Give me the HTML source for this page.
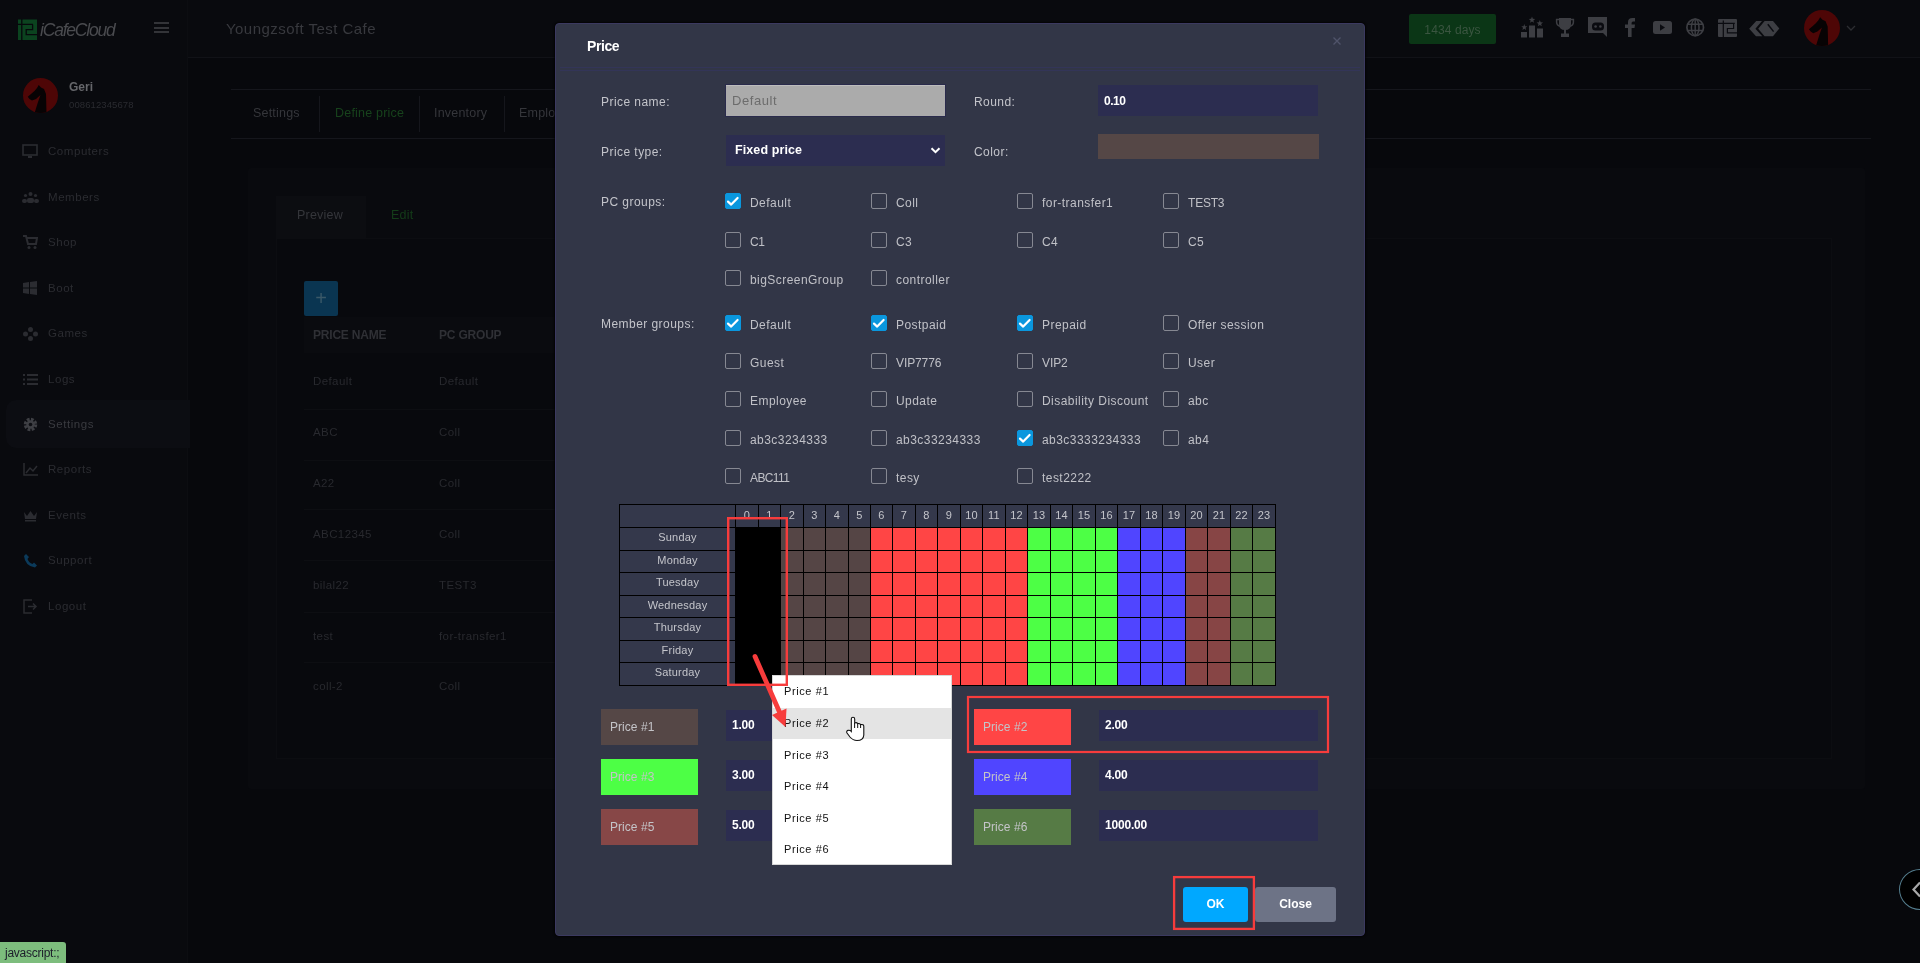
<!DOCTYPE html>
<html><head><meta charset="utf-8"><title>Price</title>
<style>
*{box-sizing:border-box;margin:0;padding:0}
html,body{width:1920px;height:963px;overflow:hidden;background:#07080c;font-family:"Liberation Sans",sans-serif;-webkit-font-smoothing:antialiased}
.a{position:absolute}
.t{position:absolute;white-space:nowrap;will-change:transform}
/* background app */
#sb-line{left:187px;top:0;width:1px;height:963px;background:#0c0d11}
#sb-bg{left:0;top:0;width:188px;height:963px;background:#090a0e}
#hd-bg{left:188px;top:0;width:1732px;height:57px;background:#090a0e}
#hd-line{left:188px;top:57px;width:1732px;height:1px;background:#111217}
.mi{will-change:transform;position:absolute;left:48px;font-size:11.5px;color:#2b2c31;letter-spacing:.55px}
.mic{position:absolute;left:23px;width:15px;height:13px}
/* modal */
#modal{left:555px;top:23px;width:810px;height:913px;background:#323647;border:1px solid #3b3960;border-radius:4px;box-shadow:0 0 2px 1px rgba(0,0,0,.75)}
.lbl{will-change:transform;position:absolute;font-size:12px;color:#c3c4ca;letter-spacing:.45px;white-space:nowrap}
.inp{position:absolute;background:#2c2d50}
.cb{position:absolute;width:16px;height:16px;border:1px solid #868892;border-radius:2px}
.cb.on{background:#0a97de;border-color:#0a97de}
.cb.on svg{position:absolute;left:-1px;top:-1px}
.cl{will-change:transform;position:absolute;font-size:12px;color:#c0c1c7;letter-spacing:.45px;white-space:nowrap}
#grid{left:619px;top:504px;width:657px;height:182px;background:#000}
#grid div{will-change:transform;position:absolute;text-align:center;color:#c4c5cb;font-size:11px;letter-spacing:.2px}
#grid .dc{text-indent:0;padding-bottom:3px;line-height:18px!important}
#grid .hc{padding-bottom:2px;line-height:20px!important}
#grid .hc{font-size:11px}
.pl{will-change:transform;position:absolute;width:97px;height:36px;font-size:12px;color:#c4c4c8;padding-left:9px;line-height:36px;letter-spacing:.05px}
.pv{will-change:transform;position:absolute;height:31px;background:#2c2d50;color:#fff;font-weight:bold;font-size:12px;line-height:31px;padding-left:6px;letter-spacing:-.2px}
.btn{will-change:transform;position:absolute;height:35px;border-radius:3px;color:#fff;font-weight:bold;font-size:12px;text-align:center;line-height:35px}
#dd{left:772px;top:675px;width:180px;height:190px;background:#fff;border:1px solid #d8d8d8}
.ddi{position:absolute;left:0;width:178px;height:31.6px;font-size:11px;color:#111;padding-left:11px;letter-spacing:.6px}
</style></head><body>
<!-- ===== background app (dimmed) ===== -->
<div class="a" id="sb-bg"></div><div class="a" id="hd-bg"></div>
<div class="a" id="sb-line"></div>
<div class="a" id="hd-line"></div>
<!-- logo -->
<svg class="a" style="left:16px;top:18px" width="24" height="24" viewBox="16 18 24 24">
 <rect x="18" y="19.5" width="19" height="20.5" fill="#0b431f"/>
 <path d="M21.8 19V40.5M17.5 24.4H33M32.6 24.4V29.7H26.2V34.6H37.5" fill="none" stroke="#07080c" stroke-width="1.3"/>
</svg>
<div class="t" style="left:40px;top:20px;font-size:17.5px;color:#4a4b4f;letter-spacing:-1.2px;font-style:italic">iCafeCloud</div>
<!-- hamburger -->
<div class="a" style="left:154px;top:22px;width:15px;height:2px;background:#333438"></div>
<div class="a" style="left:154px;top:26.5px;width:15px;height:2px;background:#333438"></div>
<div class="a" style="left:154px;top:31px;width:15px;height:2px;background:#333438"></div>
<!-- user -->
<div class="a" style="left:23px;top:78px;width:35px;height:35px;border-radius:50%;background:#4e0606;overflow:hidden">
 <svg width="35" height="35" viewBox="0 0 35 35"><path d="M15.7 7L18 9.5L21 11L23 16L23.5 36L11.3 36L15 24L17.5 17L13 21L9 22.5L6.5 21L4.8 18.7L8 16L11.5 13L14 10Z" fill="#070304"/></svg>
</div>
<div class="t" style="left:69px;top:80px;font-size:12px;font-weight:bold;color:#66676b">Geri</div>
<div class="t" style="left:69px;top:99px;font-size:9.5px;color:#2a2b30;letter-spacing:.1px">008612345678</div>
<!-- menu -->
<div class="a" style="left:6px;top:400px;width:184px;height:48px;background:#0c0d12;border-radius:10px 0 0 10px"></div>
<div class="mi" style="top:145px">Computers</div>
<div class="mi" style="top:191px">Members</div>
<div class="mi" style="top:236px">Shop</div>
<div class="mi" style="top:282px">Boot</div>
<div class="mi" style="top:327px">Games</div>
<div class="mi" style="top:373px">Logs</div>
<div class="mi" style="top:418px;color:#3a3b40">Settings</div>
<div class="mi" style="top:463px">Reports</div>
<div class="mi" style="top:509px">Events</div>
<div class="mi" style="top:554px">Support</div>
<div class="mi" style="top:600px">Logout</div>
<!-- menu icons -->
<svg class="a" style="left:22px;top:144px" width="17" height="15"><rect x="1" y="1" width="14" height="10" fill="none" stroke="#2b2c31" stroke-width="1.6"/><rect x="6" y="12" width="4" height="2" fill="#2b2c31"/></svg>
<svg class="a" style="left:22px;top:191px" width="17" height="13"><circle cx="8.5" cy="3" r="2" fill="#2b2c31"/><circle cx="3.5" cy="4.5" r="1.6" fill="#2b2c31"/><circle cx="13.5" cy="4.5" r="1.6" fill="#2b2c31"/><rect x="5" y="7" width="7" height="5" rx="2" fill="#2b2c31"/><rect x="0" y="8" width="5" height="4" rx="2" fill="#2b2c31"/><rect x="12" y="8" width="5" height="4" rx="2" fill="#2b2c31"/></svg>
<svg class="a" style="left:23px;top:235px" width="15" height="15"><path d="M0 1H3L5 9H13L14 3H4" fill="none" stroke="#2b2c31" stroke-width="2"/><circle cx="6" cy="12.5" r="1.5" fill="#2b2c31"/><circle cx="12" cy="12.5" r="1.5" fill="#2b2c31"/></svg>
<svg class="a" style="left:23px;top:281px" width="14" height="14"><path d="M0 2L6 1V6.5H0ZM7 1L14 0V6.5H7ZM0 7.5H6V13L0 12ZM7 7.5H14V14L7 13Z" fill="#2b2c31"/></svg>
<svg class="a" style="left:23px;top:327px" width="15" height="14"><circle cx="7.5" cy="2.5" r="2.5" fill="#2b2c31"/><circle cx="2.5" cy="7" r="2.5" fill="#2b2c31"/><circle cx="12.5" cy="7" r="2.5" fill="#2b2c31"/><circle cx="7.5" cy="11.5" r="2.5" fill="#2b2c31"/></svg>
<svg class="a" style="left:23px;top:373px" width="15" height="13"><g fill="#2b2c31"><rect x="0" y="1" width="2" height="2"/><rect x="4" y="1" width="11" height="2"/><rect x="0" y="5.5" width="2" height="2"/><rect x="4" y="5.5" width="11" height="2"/><rect x="0" y="10" width="2" height="2"/><rect x="4" y="10" width="11" height="2"/></g></svg>
<svg class="a" style="left:23px;top:417px" width="15" height="15" viewBox="0 0 15 15"><circle cx="7.5" cy="7.5" r="5" fill="none" stroke="#3e3f44" stroke-width="3.5" stroke-dasharray="2.6 1.3"/><circle cx="7.5" cy="7.5" r="4.2" fill="#3e3f44"/><circle cx="7.5" cy="7.5" r="1.8" fill="#0d0e13"/></svg>
<svg class="a" style="left:23px;top:463px" width="15" height="13"><path d="M1 0V12H15" fill="none" stroke="#2b2c31" stroke-width="1.5"/><path d="M3 10L7 5L10 8L14 3" fill="none" stroke="#2b2c31" stroke-width="1.5"/></svg>
<svg class="a" style="left:23px;top:509px" width="15" height="13"><path d="M1 3L4 7L7.5 2L11 7L14 3L13 10H2Z" fill="#2b2c31"/><rect x="2" y="11" width="11" height="1.5" fill="#2b2c31"/></svg>
<svg class="a" style="left:23px;top:553px" width="15" height="15"><path d="M3 1L6 4L4.5 6Q6 10 9.5 11L11 9.5L14 12.5L12 14.5Q2 13 1 3Z" fill="#0b3a5a"/></svg>
<svg class="a" style="left:23px;top:599px" width="15" height="15"><path d="M9 1H1V14H9" fill="none" stroke="#2b2c31" stroke-width="1.5"/><path d="M5 7.5H13M10 4.5L13 7.5L10 10.5" fill="none" stroke="#2b2c31" stroke-width="1.5"/></svg>
<!-- header -->
<div class="t" style="left:226px;top:20px;font-size:15px;color:#38393e;letter-spacing:.45px">Youngzsoft Test Cafe</div>
<div class="a" style="left:1409px;top:14px;width:87px;height:30px;background:#0b3616;border-radius:2px"></div>
<div class="t" style="left:1409px;top:15px;width:87px;line-height:30px;text-align:center;font-size:12px;color:#3a5540;letter-spacing:.1px">1434 days</div>
<!-- header icons -->
<svg class="a" style="left:1515px;top:12px" width="275" height="32" viewBox="1515 12 275 32">
 <g fill="#3d3e43">
 <rect x="1521" y="32" width="6" height="5.5"/><rect x="1529" y="25.5" width="6" height="12"/><rect x="1537" y="28.5" width="6" height="9"/>
 <path d="M1524.30 24.10L1525.09 26.21L1527.34 26.31L1525.58 27.72L1526.18 29.89L1524.30 28.64L1522.42 29.89L1523.02 27.72L1521.26 26.31L1523.51 26.21Z"/><path d="M1532.00 16.60L1532.84 18.84L1535.23 18.95L1533.36 20.44L1534.00 22.75L1532.00 21.43L1530.00 22.75L1530.64 20.44L1528.77 18.95L1531.16 18.84Z"/><path d="M1539.80 20.10L1540.64 22.34L1543.03 22.45L1541.16 23.94L1541.80 26.25L1539.80 24.93L1537.80 26.25L1538.44 23.94L1536.57 22.45L1538.96 22.34Z"/>
 <path d="M1559 18H1571V24Q1571 30 1565 30Q1559 30 1559 24Z"/>
 <rect x="1564" y="29" width="2" height="5"/><rect x="1561" y="33.5" width="8" height="3.5"/>
 <path d="M1588 17H1607V37L1603 33H1588Z"/>
 <path d="M1628 37V28H1625V24.5H1628V22Q1628 18 1632.5 18H1635V21.5H1633Q1631.6 21.5 1631.6 23V24.5H1635L1634.5 28H1631.6V37Z"/>
 <rect x="1653" y="21" width="19" height="13" rx="2.5"/>
 <rect x="1718" y="19" width="19" height="18" rx="1"/>
 <path d="M1749.2 28.7L1756.2 21H1762L1755.4 28.7L1762.3 36.3H1756Z"/>
 <path d="M1758.2 28.7L1764.6 21H1773L1779.3 28.5L1773 36.3H1764.6Z"/>
 </g>
 <g fill="none" stroke="#3d3e43">
 <path d="M1559 19.5H1556.6V22Q1556.6 25.5 1560 26.2M1571 19.5H1573.4V22Q1573.4 25.5 1570 26.2" stroke-width="1.5"/>
 <circle cx="1695.2" cy="27.4" r="8.3" stroke-width="1.7"/>
 <ellipse cx="1695.2" cy="27.4" rx="3.8" ry="8.3" stroke-width="1.5"/>
 <path d="M1687.5 24.3H1703M1687.5 30.5H1703M1695.2 19.5V35.5" stroke-width="1.4"/>
 </g>
 <g fill="none" stroke="#0a0b10" stroke-width="1.2">
 <path d="M1723.3 20.5V37.5M1718 23.3H1734.8M1733.6 23.3V28.5H1727.4V32.9H1737.5"/>
 <path d="M1767.8 24.3L1773.6 31.6" stroke-width="1.5"/>
 </g>
 <rect x="1592" y="22.5" width="12" height="8" rx="3.5" fill="#0a0b10"/>
 <circle cx="1595.6" cy="26.5" r="1.3" fill="#3d3e43"/><circle cx="1600.4" cy="26.5" r="1.3" fill="#3d3e43"/>
 <path d="M1660 24.3L1665 27.5L1660 30.7Z" fill="#0a0b10"/>
</svg>
<div class="a" style="left:1804px;top:10px;width:36px;height:36px;border-radius:50%;background:#4e0606;overflow:hidden">
 <svg width="36" height="36" viewBox="0 0 35 35"><path d="M15.7 7L18 9.5L21 11L23 16L23.5 36L11.3 36L15 24L17.5 17L13 21L9 22.5L6.5 21L4.8 18.7L8 16L11.5 13L14 10Z" fill="#070304"/></svg>
</div>
<svg class="a" style="left:1846px;top:24px" width="10" height="8"><path d="M1 2L5 6L9 2" fill="none" stroke="#2c2d31" stroke-width="1.3"/></svg>
<!-- tabs bar -->
<div class="a" style="left:231px;top:89px;width:1640px;height:1px;background:#15161c"></div>
<div class="a" style="left:231px;top:138px;width:1640px;height:1px;background:#15161c"></div>
<div class="a" style="left:319px;top:96px;width:1px;height:36px;background:#15161c"></div>
<div class="a" style="left:419px;top:96px;width:1px;height:36px;background:#15161c"></div>
<div class="a" style="left:504px;top:96px;width:1px;height:36px;background:#15161c"></div>
<div class="t" style="left:253px;top:106px;font-size:12.5px;color:#35363b;letter-spacing:.2px">Settings</div>
<div class="t" style="left:335px;top:106px;font-size:12.5px;color:#17421c;letter-spacing:.2px">Define price</div>
<div class="t" style="left:434px;top:106px;font-size:12.5px;color:#35363b;letter-spacing:.2px">Inventory</div>
<div class="t" style="left:519px;top:106px;font-size:12.5px;color:#35363b;letter-spacing:.2px">Employee</div>
<!-- content panels -->
<div class="a" style="left:248px;top:168px;width:1617px;height:621px;background:#090a0e;border-radius:3px"></div>
<div class="a" style="left:276px;top:196px;width:90px;height:44px;background:#0c0d11"></div>
<div class="t" style="left:297px;top:208px;font-size:12.5px;color:#35363b;letter-spacing:.2px">Preview</div>
<div class="t" style="left:391px;top:208px;font-size:12.5px;color:#143d19;letter-spacing:.2px">Edit</div>
<div class="a" style="left:276px;top:238px;width:1556px;height:521px;background:#08090d;border:1px solid #0c0d11"></div>
<div class="a" style="left:304px;top:281px;width:34px;height:35px;background:#0a3551;border-radius:2px"></div>
<div class="t" style="left:304px;top:281px;width:34px;line-height:34px;text-align:center;font-size:20px;color:#3a5868">+</div>
<div class="a" style="left:304px;top:317px;width:1050px;height:36px;background:#0a0b0f"></div>
<div class="t" style="left:313px;top:328px;font-size:12px;font-weight:bold;color:#2f3035;letter-spacing:-.2px">PRICE NAME</div>
<div class="t" style="left:439px;top:328px;font-size:12px;font-weight:bold;color:#2f3035;letter-spacing:-.2px">PC GROUP</div>
<div class="t" style="left:313px;top:375px;font-size:11.5px;color:#28292e;letter-spacing:.4px">Default</div><div class="t" style="left:439px;top:375px;font-size:11.5px;color:#28292e;letter-spacing:.4px">Default</div>
<div class="a" style="left:304px;top:409px;width:1060px;height:1px;background:#0d0e12"></div>
<div class="t" style="left:313px;top:426px;font-size:11.5px;color:#28292e;letter-spacing:.4px">ABC</div><div class="t" style="left:439px;top:426px;font-size:11.5px;color:#28292e;letter-spacing:.4px">Coll</div>
<div class="a" style="left:304px;top:460px;width:1060px;height:1px;background:#0d0e12"></div>
<div class="t" style="left:313px;top:477px;font-size:11.5px;color:#28292e;letter-spacing:.4px">A22</div><div class="t" style="left:439px;top:477px;font-size:11.5px;color:#28292e;letter-spacing:.4px">Coll</div>
<div class="a" style="left:304px;top:509px;width:1060px;height:1px;background:#0d0e12"></div>
<div class="t" style="left:313px;top:528px;font-size:11.5px;color:#28292e;letter-spacing:.4px">ABC12345</div><div class="t" style="left:439px;top:528px;font-size:11.5px;color:#28292e;letter-spacing:.4px">Coll</div>
<div class="a" style="left:304px;top:560px;width:1060px;height:1px;background:#0d0e12"></div>
<div class="t" style="left:313px;top:579px;font-size:11.5px;color:#28292e;letter-spacing:.4px">bilal22</div><div class="t" style="left:439px;top:579px;font-size:11.5px;color:#28292e;letter-spacing:.4px">TEST3</div>
<div class="a" style="left:304px;top:612px;width:1060px;height:1px;background:#0d0e12"></div>
<div class="t" style="left:313px;top:630px;font-size:11.5px;color:#28292e;letter-spacing:.4px">test</div><div class="t" style="left:439px;top:630px;font-size:11.5px;color:#28292e;letter-spacing:.4px">for-transfer1</div>
<div class="a" style="left:304px;top:662px;width:1060px;height:1px;background:#0d0e12"></div>
<div class="t" style="left:313px;top:680px;font-size:11.5px;color:#28292e;letter-spacing:.4px">coll-2</div><div class="t" style="left:439px;top:680px;font-size:11.5px;color:#28292e;letter-spacing:.4px">Coll</div>
<!-- ===== modal ===== -->
<div class="a" id="modal"></div>
<div class="a" style="left:560px;top:67px;width:800px;height:1px;background:#333558"></div><div class="a" style="left:560px;top:70px;width:800px;height:1px;background:#333558"></div>
<div class="t" style="left:587px;top:38px;font-size:14px;font-weight:bold;color:#fff;letter-spacing:-.4px">Price</div>
<svg class="a" style="left:1333px;top:36.5px" width="8" height="8"><path d="M.5 .5L7.5 7.5M7.5 .5L.5 7.5" stroke="#50546a" stroke-width="1.3"/></svg>
<div class="lbl" style="left:601px;top:95px">Price name:</div>
<div class="a" style="left:725px;top:84px;width:221px;height:33px;background:#ababab;border:1px solid #2a2b4c;box-shadow:inset 0 1px 0 #bdbdbd"></div>
<div class="t" style="left:732px;top:93px;font-size:13px;color:#6c6c6c;letter-spacing:.55px">Default</div>
<div class="lbl" style="left:974px;top:95px">Round:</div>
<div class="inp" style="left:1098px;top:85px;width:220px;height:31px"></div>
<div class="t" style="left:1104px;top:94px;font-size:12px;font-weight:bold;color:#fff;letter-spacing:-.5px">0.10</div>
<div class="lbl" style="left:601px;top:145px">Price type:</div>
<div class="inp" style="left:726px;top:135px;width:219px;height:31px"></div>
<div class="t" style="left:735px;top:143px;font-size:12.5px;font-weight:bold;color:#fff;letter-spacing:.1px">Fixed price</div>
<svg class="a" style="left:930px;top:147px" width="11" height="7"><path d="M1.5 1.2L5.5 5.2L9.5 1.2" fill="none" stroke="#fff" stroke-width="2"/></svg>
<div class="lbl" style="left:974px;top:145px">Color:</div>
<div class="a" style="left:1098px;top:134px;width:221px;height:25px;background:#554746"></div>
<div class="lbl" style="left:601px;top:195px">PC groups:</div>
<div class="cb on" style="left:725px;top:193px"><svg width="16" height="16" viewBox="0 0 16 16"><path d="M3 8.6L6.2 11.6L12.6 5" fill="none" stroke="#fff" stroke-width="2.2" stroke-linecap="round" stroke-linejoin="round"/></svg></div><div class="cl" style="left:750px;top:196px">Default</div>
<div class="cb" style="left:871px;top:193px"></div><div class="cl" style="left:896px;top:196px">Coll</div>
<div class="cb" style="left:1017px;top:193px"></div><div class="cl" style="left:1042px;top:196px">for-transfer1</div>
<div class="cb" style="left:1163px;top:193px"></div><div class="cl" style="left:1188px;top:196px;letter-spacing:-.2px">TEST3</div>
<div class="cb" style="left:725px;top:232px"></div><div class="cl" style="left:750px;top:235px;letter-spacing:-.3px">C1</div>
<div class="cb" style="left:871px;top:232px"></div><div class="cl" style="left:896px;top:235px">C3</div>
<div class="cb" style="left:1017px;top:232px"></div><div class="cl" style="left:1042px;top:235px">C4</div>
<div class="cb" style="left:1163px;top:232px"></div><div class="cl" style="left:1188px;top:235px">C5</div>
<div class="cb" style="left:725px;top:270px"></div><div class="cl" style="left:750px;top:273px">bigScreenGroup</div>
<div class="cb" style="left:871px;top:270px"></div><div class="cl" style="left:896px;top:273px">controller</div>
<div class="lbl" style="left:601px;top:317px">Member groups:</div>
<div class="cb on" style="left:725px;top:315px"><svg width="16" height="16" viewBox="0 0 16 16"><path d="M3 8.6L6.2 11.6L12.6 5" fill="none" stroke="#fff" stroke-width="2.2" stroke-linecap="round" stroke-linejoin="round"/></svg></div><div class="cl" style="left:750px;top:318px">Default</div>
<div class="cb on" style="left:871px;top:315px"><svg width="16" height="16" viewBox="0 0 16 16"><path d="M3 8.6L6.2 11.6L12.6 5" fill="none" stroke="#fff" stroke-width="2.2" stroke-linecap="round" stroke-linejoin="round"/></svg></div><div class="cl" style="left:896px;top:318px">Postpaid</div>
<div class="cb on" style="left:1017px;top:315px"><svg width="16" height="16" viewBox="0 0 16 16"><path d="M3 8.6L6.2 11.6L12.6 5" fill="none" stroke="#fff" stroke-width="2.2" stroke-linecap="round" stroke-linejoin="round"/></svg></div><div class="cl" style="left:1042px;top:318px">Prepaid</div>
<div class="cb" style="left:1163px;top:315px"></div><div class="cl" style="left:1188px;top:318px">Offer session</div>
<div class="cb" style="left:725px;top:353px"></div><div class="cl" style="left:750px;top:356px">Guest</div>
<div class="cb" style="left:871px;top:353px"></div><div class="cl" style="left:896px;top:356px;letter-spacing:-.1px">VIP7776</div>
<div class="cb" style="left:1017px;top:353px"></div><div class="cl" style="left:1042px;top:356px;letter-spacing:-.1px">VIP2</div>
<div class="cb" style="left:1163px;top:353px"></div><div class="cl" style="left:1188px;top:356px">User</div>
<div class="cb" style="left:725px;top:391px"></div><div class="cl" style="left:750px;top:394px">Employee</div>
<div class="cb" style="left:871px;top:391px"></div><div class="cl" style="left:896px;top:394px">Update</div>
<div class="cb" style="left:1017px;top:391px"></div><div class="cl" style="left:1042px;top:394px">Disability Discount</div>
<div class="cb" style="left:1163px;top:391px"></div><div class="cl" style="left:1188px;top:394px">abc</div>
<div class="cb" style="left:725px;top:430px"></div><div class="cl" style="left:750px;top:433px">ab3c3234333</div>
<div class="cb" style="left:871px;top:430px"></div><div class="cl" style="left:896px;top:433px">ab3c33234333</div>
<div class="cb on" style="left:1017px;top:430px"><svg width="16" height="16" viewBox="0 0 16 16"><path d="M3 8.6L6.2 11.6L12.6 5" fill="none" stroke="#fff" stroke-width="2.2" stroke-linecap="round" stroke-linejoin="round"/></svg></div><div class="cl" style="left:1042px;top:433px">ab3c3333234333</div>
<div class="cb" style="left:1163px;top:430px"></div><div class="cl" style="left:1188px;top:433px">ab4</div>
<div class="cb" style="left:725px;top:468px"></div><div class="cl" style="left:750px;top:471px;letter-spacing:-.6px">ABC111</div>
<div class="cb" style="left:871px;top:468px"></div><div class="cl" style="left:896px;top:471px">tesy</div>
<div class="cb" style="left:1017px;top:468px"></div><div class="cl" style="left:1042px;top:471px">test2222</div>
<!-- schedule grid -->
<div class="a" id="grid">
<div class="hc" style="left:1px;top:1px;width:115px;height:22px;line-height:22px;background:#34384b"></div>
<div class="hc" style="left:117px;top:1px;width:22px;height:22px;line-height:22px;background:#34384b">0</div>
<div class="hc" style="left:140px;top:1px;width:21px;height:22px;line-height:22px;background:#34384b">1</div>
<div class="hc" style="left:162px;top:1px;width:22px;height:22px;line-height:22px;background:#34384b">2</div>
<div class="hc" style="left:185px;top:1px;width:21px;height:22px;line-height:22px;background:#34384b">3</div>
<div class="hc" style="left:207px;top:1px;width:22px;height:22px;line-height:22px;background:#34384b">4</div>
<div class="hc" style="left:230px;top:1px;width:21px;height:22px;line-height:22px;background:#34384b">5</div>
<div class="hc" style="left:252px;top:1px;width:21px;height:22px;line-height:22px;background:#34384b">6</div>
<div class="hc" style="left:274px;top:1px;width:22px;height:22px;line-height:22px;background:#34384b">7</div>
<div class="hc" style="left:297px;top:1px;width:21px;height:22px;line-height:22px;background:#34384b">8</div>
<div class="hc" style="left:319px;top:1px;width:22px;height:22px;line-height:22px;background:#34384b">9</div>
<div class="hc" style="left:342px;top:1px;width:21px;height:22px;line-height:22px;background:#34384b">10</div>
<div class="hc" style="left:364px;top:1px;width:22px;height:22px;line-height:22px;background:#34384b">11</div>
<div class="hc" style="left:387px;top:1px;width:21px;height:22px;line-height:22px;background:#34384b">12</div>
<div class="hc" style="left:409px;top:1px;width:22px;height:22px;line-height:22px;background:#34384b">13</div>
<div class="hc" style="left:432px;top:1px;width:21px;height:22px;line-height:22px;background:#34384b">14</div>
<div class="hc" style="left:454px;top:1px;width:22px;height:22px;line-height:22px;background:#34384b">15</div>
<div class="hc" style="left:477px;top:1px;width:21px;height:22px;line-height:22px;background:#34384b">16</div>
<div class="hc" style="left:499px;top:1px;width:22px;height:22px;line-height:22px;background:#34384b">17</div>
<div class="hc" style="left:522px;top:1px;width:21px;height:22px;line-height:22px;background:#34384b">18</div>
<div class="hc" style="left:544px;top:1px;width:22px;height:22px;line-height:22px;background:#34384b">19</div>
<div class="hc" style="left:567px;top:1px;width:21px;height:22px;line-height:22px;background:#34384b">20</div>
<div class="hc" style="left:589px;top:1px;width:22px;height:22px;line-height:22px;background:#34384b">21</div>
<div class="hc" style="left:612px;top:1px;width:21px;height:22px;line-height:22px;background:#34384b">22</div>
<div class="hc" style="left:634px;top:1px;width:22px;height:22px;line-height:22px;background:#34384b">23</div>
<div class="dc" style="left:1px;top:24px;width:115px;height:22px;line-height:22px;background:#34384b">Sunday</div>
<div class="gc" style="left:117px;top:24px;width:22px;height:22px;line-height:22px;background:#000"></div>
<div class="gc" style="left:140px;top:24px;width:21px;height:22px;line-height:22px;background:#000"></div>
<div class="gc" style="left:162px;top:24px;width:22px;height:22px;line-height:22px;background:#554545"></div>
<div class="gc" style="left:185px;top:24px;width:21px;height:22px;line-height:22px;background:#554545"></div>
<div class="gc" style="left:207px;top:24px;width:22px;height:22px;line-height:22px;background:#554545"></div>
<div class="gc" style="left:230px;top:24px;width:21px;height:22px;line-height:22px;background:#554545"></div>
<div class="gc" style="left:252px;top:24px;width:21px;height:22px;line-height:22px;background:#ff4545"></div>
<div class="gc" style="left:274px;top:24px;width:22px;height:22px;line-height:22px;background:#ff4545"></div>
<div class="gc" style="left:297px;top:24px;width:21px;height:22px;line-height:22px;background:#ff4545"></div>
<div class="gc" style="left:319px;top:24px;width:22px;height:22px;line-height:22px;background:#ff4545"></div>
<div class="gc" style="left:342px;top:24px;width:21px;height:22px;line-height:22px;background:#ff4545"></div>
<div class="gc" style="left:364px;top:24px;width:22px;height:22px;line-height:22px;background:#ff4545"></div>
<div class="gc" style="left:387px;top:24px;width:21px;height:22px;line-height:22px;background:#ff4545"></div>
<div class="gc" style="left:409px;top:24px;width:22px;height:22px;line-height:22px;background:#4dff45"></div>
<div class="gc" style="left:432px;top:24px;width:21px;height:22px;line-height:22px;background:#4dff45"></div>
<div class="gc" style="left:454px;top:24px;width:22px;height:22px;line-height:22px;background:#4dff45"></div>
<div class="gc" style="left:477px;top:24px;width:21px;height:22px;line-height:22px;background:#4dff45"></div>
<div class="gc" style="left:499px;top:24px;width:22px;height:22px;line-height:22px;background:#5045ff"></div>
<div class="gc" style="left:522px;top:24px;width:21px;height:22px;line-height:22px;background:#5045ff"></div>
<div class="gc" style="left:544px;top:24px;width:22px;height:22px;line-height:22px;background:#5045ff"></div>
<div class="gc" style="left:567px;top:24px;width:21px;height:22px;line-height:22px;background:#874545"></div>
<div class="gc" style="left:589px;top:24px;width:22px;height:22px;line-height:22px;background:#874545"></div>
<div class="gc" style="left:612px;top:24px;width:21px;height:22px;line-height:22px;background:#567b45"></div>
<div class="gc" style="left:634px;top:24px;width:22px;height:22px;line-height:22px;background:#567b45"></div>
<div class="dc" style="left:1px;top:47px;width:115px;height:21px;line-height:21px;background:#34384b">Monday</div>
<div class="gc" style="left:117px;top:47px;width:22px;height:21px;line-height:21px;background:#000"></div>
<div class="gc" style="left:140px;top:47px;width:21px;height:21px;line-height:21px;background:#000"></div>
<div class="gc" style="left:162px;top:47px;width:22px;height:21px;line-height:21px;background:#554545"></div>
<div class="gc" style="left:185px;top:47px;width:21px;height:21px;line-height:21px;background:#554545"></div>
<div class="gc" style="left:207px;top:47px;width:22px;height:21px;line-height:21px;background:#554545"></div>
<div class="gc" style="left:230px;top:47px;width:21px;height:21px;line-height:21px;background:#554545"></div>
<div class="gc" style="left:252px;top:47px;width:21px;height:21px;line-height:21px;background:#ff4545"></div>
<div class="gc" style="left:274px;top:47px;width:22px;height:21px;line-height:21px;background:#ff4545"></div>
<div class="gc" style="left:297px;top:47px;width:21px;height:21px;line-height:21px;background:#ff4545"></div>
<div class="gc" style="left:319px;top:47px;width:22px;height:21px;line-height:21px;background:#ff4545"></div>
<div class="gc" style="left:342px;top:47px;width:21px;height:21px;line-height:21px;background:#ff4545"></div>
<div class="gc" style="left:364px;top:47px;width:22px;height:21px;line-height:21px;background:#ff4545"></div>
<div class="gc" style="left:387px;top:47px;width:21px;height:21px;line-height:21px;background:#ff4545"></div>
<div class="gc" style="left:409px;top:47px;width:22px;height:21px;line-height:21px;background:#4dff45"></div>
<div class="gc" style="left:432px;top:47px;width:21px;height:21px;line-height:21px;background:#4dff45"></div>
<div class="gc" style="left:454px;top:47px;width:22px;height:21px;line-height:21px;background:#4dff45"></div>
<div class="gc" style="left:477px;top:47px;width:21px;height:21px;line-height:21px;background:#4dff45"></div>
<div class="gc" style="left:499px;top:47px;width:22px;height:21px;line-height:21px;background:#5045ff"></div>
<div class="gc" style="left:522px;top:47px;width:21px;height:21px;line-height:21px;background:#5045ff"></div>
<div class="gc" style="left:544px;top:47px;width:22px;height:21px;line-height:21px;background:#5045ff"></div>
<div class="gc" style="left:567px;top:47px;width:21px;height:21px;line-height:21px;background:#874545"></div>
<div class="gc" style="left:589px;top:47px;width:22px;height:21px;line-height:21px;background:#874545"></div>
<div class="gc" style="left:612px;top:47px;width:21px;height:21px;line-height:21px;background:#567b45"></div>
<div class="gc" style="left:634px;top:47px;width:22px;height:21px;line-height:21px;background:#567b45"></div>
<div class="dc" style="left:1px;top:69px;width:115px;height:22px;line-height:22px;background:#34384b">Tuesday</div>
<div class="gc" style="left:117px;top:69px;width:22px;height:22px;line-height:22px;background:#000"></div>
<div class="gc" style="left:140px;top:69px;width:21px;height:22px;line-height:22px;background:#000"></div>
<div class="gc" style="left:162px;top:69px;width:22px;height:22px;line-height:22px;background:#554545"></div>
<div class="gc" style="left:185px;top:69px;width:21px;height:22px;line-height:22px;background:#554545"></div>
<div class="gc" style="left:207px;top:69px;width:22px;height:22px;line-height:22px;background:#554545"></div>
<div class="gc" style="left:230px;top:69px;width:21px;height:22px;line-height:22px;background:#554545"></div>
<div class="gc" style="left:252px;top:69px;width:21px;height:22px;line-height:22px;background:#ff4545"></div>
<div class="gc" style="left:274px;top:69px;width:22px;height:22px;line-height:22px;background:#ff4545"></div>
<div class="gc" style="left:297px;top:69px;width:21px;height:22px;line-height:22px;background:#ff4545"></div>
<div class="gc" style="left:319px;top:69px;width:22px;height:22px;line-height:22px;background:#ff4545"></div>
<div class="gc" style="left:342px;top:69px;width:21px;height:22px;line-height:22px;background:#ff4545"></div>
<div class="gc" style="left:364px;top:69px;width:22px;height:22px;line-height:22px;background:#ff4545"></div>
<div class="gc" style="left:387px;top:69px;width:21px;height:22px;line-height:22px;background:#ff4545"></div>
<div class="gc" style="left:409px;top:69px;width:22px;height:22px;line-height:22px;background:#4dff45"></div>
<div class="gc" style="left:432px;top:69px;width:21px;height:22px;line-height:22px;background:#4dff45"></div>
<div class="gc" style="left:454px;top:69px;width:22px;height:22px;line-height:22px;background:#4dff45"></div>
<div class="gc" style="left:477px;top:69px;width:21px;height:22px;line-height:22px;background:#4dff45"></div>
<div class="gc" style="left:499px;top:69px;width:22px;height:22px;line-height:22px;background:#5045ff"></div>
<div class="gc" style="left:522px;top:69px;width:21px;height:22px;line-height:22px;background:#5045ff"></div>
<div class="gc" style="left:544px;top:69px;width:22px;height:22px;line-height:22px;background:#5045ff"></div>
<div class="gc" style="left:567px;top:69px;width:21px;height:22px;line-height:22px;background:#874545"></div>
<div class="gc" style="left:589px;top:69px;width:22px;height:22px;line-height:22px;background:#874545"></div>
<div class="gc" style="left:612px;top:69px;width:21px;height:22px;line-height:22px;background:#567b45"></div>
<div class="gc" style="left:634px;top:69px;width:22px;height:22px;line-height:22px;background:#567b45"></div>
<div class="dc" style="left:1px;top:92px;width:115px;height:21px;line-height:21px;background:#34384b">Wednesday</div>
<div class="gc" style="left:117px;top:92px;width:22px;height:21px;line-height:21px;background:#000"></div>
<div class="gc" style="left:140px;top:92px;width:21px;height:21px;line-height:21px;background:#000"></div>
<div class="gc" style="left:162px;top:92px;width:22px;height:21px;line-height:21px;background:#554545"></div>
<div class="gc" style="left:185px;top:92px;width:21px;height:21px;line-height:21px;background:#554545"></div>
<div class="gc" style="left:207px;top:92px;width:22px;height:21px;line-height:21px;background:#554545"></div>
<div class="gc" style="left:230px;top:92px;width:21px;height:21px;line-height:21px;background:#554545"></div>
<div class="gc" style="left:252px;top:92px;width:21px;height:21px;line-height:21px;background:#ff4545"></div>
<div class="gc" style="left:274px;top:92px;width:22px;height:21px;line-height:21px;background:#ff4545"></div>
<div class="gc" style="left:297px;top:92px;width:21px;height:21px;line-height:21px;background:#ff4545"></div>
<div class="gc" style="left:319px;top:92px;width:22px;height:21px;line-height:21px;background:#ff4545"></div>
<div class="gc" style="left:342px;top:92px;width:21px;height:21px;line-height:21px;background:#ff4545"></div>
<div class="gc" style="left:364px;top:92px;width:22px;height:21px;line-height:21px;background:#ff4545"></div>
<div class="gc" style="left:387px;top:92px;width:21px;height:21px;line-height:21px;background:#ff4545"></div>
<div class="gc" style="left:409px;top:92px;width:22px;height:21px;line-height:21px;background:#4dff45"></div>
<div class="gc" style="left:432px;top:92px;width:21px;height:21px;line-height:21px;background:#4dff45"></div>
<div class="gc" style="left:454px;top:92px;width:22px;height:21px;line-height:21px;background:#4dff45"></div>
<div class="gc" style="left:477px;top:92px;width:21px;height:21px;line-height:21px;background:#4dff45"></div>
<div class="gc" style="left:499px;top:92px;width:22px;height:21px;line-height:21px;background:#5045ff"></div>
<div class="gc" style="left:522px;top:92px;width:21px;height:21px;line-height:21px;background:#5045ff"></div>
<div class="gc" style="left:544px;top:92px;width:22px;height:21px;line-height:21px;background:#5045ff"></div>
<div class="gc" style="left:567px;top:92px;width:21px;height:21px;line-height:21px;background:#874545"></div>
<div class="gc" style="left:589px;top:92px;width:22px;height:21px;line-height:21px;background:#874545"></div>
<div class="gc" style="left:612px;top:92px;width:21px;height:21px;line-height:21px;background:#567b45"></div>
<div class="gc" style="left:634px;top:92px;width:22px;height:21px;line-height:21px;background:#567b45"></div>
<div class="dc" style="left:1px;top:114px;width:115px;height:22px;line-height:22px;background:#34384b">Thursday</div>
<div class="gc" style="left:117px;top:114px;width:22px;height:22px;line-height:22px;background:#000"></div>
<div class="gc" style="left:140px;top:114px;width:21px;height:22px;line-height:22px;background:#000"></div>
<div class="gc" style="left:162px;top:114px;width:22px;height:22px;line-height:22px;background:#554545"></div>
<div class="gc" style="left:185px;top:114px;width:21px;height:22px;line-height:22px;background:#554545"></div>
<div class="gc" style="left:207px;top:114px;width:22px;height:22px;line-height:22px;background:#554545"></div>
<div class="gc" style="left:230px;top:114px;width:21px;height:22px;line-height:22px;background:#554545"></div>
<div class="gc" style="left:252px;top:114px;width:21px;height:22px;line-height:22px;background:#ff4545"></div>
<div class="gc" style="left:274px;top:114px;width:22px;height:22px;line-height:22px;background:#ff4545"></div>
<div class="gc" style="left:297px;top:114px;width:21px;height:22px;line-height:22px;background:#ff4545"></div>
<div class="gc" style="left:319px;top:114px;width:22px;height:22px;line-height:22px;background:#ff4545"></div>
<div class="gc" style="left:342px;top:114px;width:21px;height:22px;line-height:22px;background:#ff4545"></div>
<div class="gc" style="left:364px;top:114px;width:22px;height:22px;line-height:22px;background:#ff4545"></div>
<div class="gc" style="left:387px;top:114px;width:21px;height:22px;line-height:22px;background:#ff4545"></div>
<div class="gc" style="left:409px;top:114px;width:22px;height:22px;line-height:22px;background:#4dff45"></div>
<div class="gc" style="left:432px;top:114px;width:21px;height:22px;line-height:22px;background:#4dff45"></div>
<div class="gc" style="left:454px;top:114px;width:22px;height:22px;line-height:22px;background:#4dff45"></div>
<div class="gc" style="left:477px;top:114px;width:21px;height:22px;line-height:22px;background:#4dff45"></div>
<div class="gc" style="left:499px;top:114px;width:22px;height:22px;line-height:22px;background:#5045ff"></div>
<div class="gc" style="left:522px;top:114px;width:21px;height:22px;line-height:22px;background:#5045ff"></div>
<div class="gc" style="left:544px;top:114px;width:22px;height:22px;line-height:22px;background:#5045ff"></div>
<div class="gc" style="left:567px;top:114px;width:21px;height:22px;line-height:22px;background:#874545"></div>
<div class="gc" style="left:589px;top:114px;width:22px;height:22px;line-height:22px;background:#874545"></div>
<div class="gc" style="left:612px;top:114px;width:21px;height:22px;line-height:22px;background:#567b45"></div>
<div class="gc" style="left:634px;top:114px;width:22px;height:22px;line-height:22px;background:#567b45"></div>
<div class="dc" style="left:1px;top:137px;width:115px;height:21px;line-height:21px;background:#34384b">Friday</div>
<div class="gc" style="left:117px;top:137px;width:22px;height:21px;line-height:21px;background:#000"></div>
<div class="gc" style="left:140px;top:137px;width:21px;height:21px;line-height:21px;background:#000"></div>
<div class="gc" style="left:162px;top:137px;width:22px;height:21px;line-height:21px;background:#554545"></div>
<div class="gc" style="left:185px;top:137px;width:21px;height:21px;line-height:21px;background:#554545"></div>
<div class="gc" style="left:207px;top:137px;width:22px;height:21px;line-height:21px;background:#554545"></div>
<div class="gc" style="left:230px;top:137px;width:21px;height:21px;line-height:21px;background:#554545"></div>
<div class="gc" style="left:252px;top:137px;width:21px;height:21px;line-height:21px;background:#ff4545"></div>
<div class="gc" style="left:274px;top:137px;width:22px;height:21px;line-height:21px;background:#ff4545"></div>
<div class="gc" style="left:297px;top:137px;width:21px;height:21px;line-height:21px;background:#ff4545"></div>
<div class="gc" style="left:319px;top:137px;width:22px;height:21px;line-height:21px;background:#ff4545"></div>
<div class="gc" style="left:342px;top:137px;width:21px;height:21px;line-height:21px;background:#ff4545"></div>
<div class="gc" style="left:364px;top:137px;width:22px;height:21px;line-height:21px;background:#ff4545"></div>
<div class="gc" style="left:387px;top:137px;width:21px;height:21px;line-height:21px;background:#ff4545"></div>
<div class="gc" style="left:409px;top:137px;width:22px;height:21px;line-height:21px;background:#4dff45"></div>
<div class="gc" style="left:432px;top:137px;width:21px;height:21px;line-height:21px;background:#4dff45"></div>
<div class="gc" style="left:454px;top:137px;width:22px;height:21px;line-height:21px;background:#4dff45"></div>
<div class="gc" style="left:477px;top:137px;width:21px;height:21px;line-height:21px;background:#4dff45"></div>
<div class="gc" style="left:499px;top:137px;width:22px;height:21px;line-height:21px;background:#5045ff"></div>
<div class="gc" style="left:522px;top:137px;width:21px;height:21px;line-height:21px;background:#5045ff"></div>
<div class="gc" style="left:544px;top:137px;width:22px;height:21px;line-height:21px;background:#5045ff"></div>
<div class="gc" style="left:567px;top:137px;width:21px;height:21px;line-height:21px;background:#874545"></div>
<div class="gc" style="left:589px;top:137px;width:22px;height:21px;line-height:21px;background:#874545"></div>
<div class="gc" style="left:612px;top:137px;width:21px;height:21px;line-height:21px;background:#567b45"></div>
<div class="gc" style="left:634px;top:137px;width:22px;height:21px;line-height:21px;background:#567b45"></div>
<div class="dc" style="left:1px;top:159px;width:115px;height:22px;line-height:22px;background:#34384b">Saturday</div>
<div class="gc" style="left:117px;top:159px;width:22px;height:22px;line-height:22px;background:#000"></div>
<div class="gc" style="left:140px;top:159px;width:21px;height:22px;line-height:22px;background:#000"></div>
<div class="gc" style="left:162px;top:159px;width:22px;height:22px;line-height:22px;background:#554545"></div>
<div class="gc" style="left:185px;top:159px;width:21px;height:22px;line-height:22px;background:#554545"></div>
<div class="gc" style="left:207px;top:159px;width:22px;height:22px;line-height:22px;background:#554545"></div>
<div class="gc" style="left:230px;top:159px;width:21px;height:22px;line-height:22px;background:#554545"></div>
<div class="gc" style="left:252px;top:159px;width:21px;height:22px;line-height:22px;background:#ff4545"></div>
<div class="gc" style="left:274px;top:159px;width:22px;height:22px;line-height:22px;background:#ff4545"></div>
<div class="gc" style="left:297px;top:159px;width:21px;height:22px;line-height:22px;background:#ff4545"></div>
<div class="gc" style="left:319px;top:159px;width:22px;height:22px;line-height:22px;background:#ff4545"></div>
<div class="gc" style="left:342px;top:159px;width:21px;height:22px;line-height:22px;background:#ff4545"></div>
<div class="gc" style="left:364px;top:159px;width:22px;height:22px;line-height:22px;background:#ff4545"></div>
<div class="gc" style="left:387px;top:159px;width:21px;height:22px;line-height:22px;background:#ff4545"></div>
<div class="gc" style="left:409px;top:159px;width:22px;height:22px;line-height:22px;background:#4dff45"></div>
<div class="gc" style="left:432px;top:159px;width:21px;height:22px;line-height:22px;background:#4dff45"></div>
<div class="gc" style="left:454px;top:159px;width:22px;height:22px;line-height:22px;background:#4dff45"></div>
<div class="gc" style="left:477px;top:159px;width:21px;height:22px;line-height:22px;background:#4dff45"></div>
<div class="gc" style="left:499px;top:159px;width:22px;height:22px;line-height:22px;background:#5045ff"></div>
<div class="gc" style="left:522px;top:159px;width:21px;height:22px;line-height:22px;background:#5045ff"></div>
<div class="gc" style="left:544px;top:159px;width:22px;height:22px;line-height:22px;background:#5045ff"></div>
<div class="gc" style="left:567px;top:159px;width:21px;height:22px;line-height:22px;background:#874545"></div>
<div class="gc" style="left:589px;top:159px;width:22px;height:22px;line-height:22px;background:#874545"></div>
<div class="gc" style="left:612px;top:159px;width:21px;height:22px;line-height:22px;background:#567b45"></div>
<div class="gc" style="left:634px;top:159px;width:22px;height:22px;line-height:22px;background:#567b45"></div>
</div>
<!-- price rows -->
<div class="pl" style="left:601px;top:709px;background:#554746">Price #1</div>
<div class="pv" style="left:726px;top:710px;width:219px">1.00</div>
<div class="pl" style="left:601px;top:759px;background:#4dff45">Price #3</div>
<div class="pv" style="left:726px;top:760px;width:219px">3.00</div>
<div class="pl" style="left:601px;top:809px;background:#874747">Price #5</div>
<div class="pv" style="left:726px;top:810px;width:219px">5.00</div>
<div class="pl" style="left:974px;top:709px;background:#ff4545">Price #2</div>
<div class="pv" style="left:1099px;top:710px;width:219px">2.00</div>
<div class="pl" style="left:974px;top:759px;background:#5045ff">Price #4</div>
<div class="pv" style="left:1099px;top:760px;width:219px">4.00</div>
<div class="pl" style="left:974px;top:809px;background:#567b45">Price #6</div>
<div class="pv" style="left:1099px;top:810px;width:219px">1000.00</div>
<!-- buttons -->
<div class="btn" style="left:1183px;top:887px;width:65px;background:#00a8ff">OK</div>
<div class="btn" style="left:1255px;top:887px;width:81px;background:#6d7386">Close</div>
<!-- dropdown -->
<div class="a" id="dd">
 <div class="ddi" style="top:0;padding-top:9px">Price #1</div>
 <div class="ddi" style="top:32px;height:31px;background:#e4e4e4;padding-top:9px">Price #2</div>
 <div class="ddi" style="top:63.5px;padding-top:9px">Price #3</div>
 <div class="ddi" style="top:95px;padding-top:9px">Price #4</div>
 <div class="ddi" style="top:126.5px;padding-top:9px">Price #5</div>
 <div class="ddi" style="top:158px;padding-top:9px">Price #6</div>
</div>
<!-- annotations -->
<svg class="a" style="left:0;top:0" width="1920" height="963" viewBox="0 0 1920 963">
 <g fill="none" stroke="#f73c3c">
  <rect x="728.2" y="518.2" width="58.6" height="166.6" stroke-width="2.4"/>
  <rect x="968" y="697" width="360" height="55" stroke-width="2.2"/>
  <rect x="1174.1" y="877.1" width="79.8" height="51.8" stroke-width="2.3"/>
  <path d="M755 656.5L779.5 712" stroke-width="4.8" stroke-linecap="round"/>
 </g>
 <path d="M772 715L786.5 708.5L785.5 727Z" fill="#f73c3c"/>
</svg>
<!-- cursor -->
<svg class="a" style="left:840px;top:710px" width="30" height="35" viewBox="0 0 30 35">
 <path d="M11.3 21.5L11.3 9Q11.3 7.3 13 7.3Q14.7 7.3 14.7 9L14.7 13Q16.5 12 17.8 13.6Q19.6 13.2 20.6 14.6Q23.8 14 23.8 16.5L23.8 25Q23.5 30.5 17 30.5Q13 30.5 10 27L7 23Q6 21 8 20.4Q10 20 11.3 21.5Z" fill="#fff" stroke="#111" stroke-width="1.1"/>
 <path d="M14.6 13V18M17.7 13.8V18M20.6 14.8V18" stroke="#111" stroke-width="1"/>
</svg>
<!-- status bar -->
<div class="a" style="left:0;top:942px;width:66px;height:21px;background:#7dbd7d;border-radius:0 3px 0 0"></div>
<div class="t" style="left:5px;top:946px;font-size:12px;color:#1c1c2a;letter-spacing:-.25px">javascript:;</div>
<!-- side chevron circle -->
<div class="a" style="left:1899px;top:869px;width:42px;height:41px;border-radius:50%;background:#000;border:1px solid #557f90"></div>
<svg class="a" style="left:1911px;top:881px" width="11" height="17"><path d="M9 1.5L2.5 8.5L9 15.5" fill="none" stroke="#a8a8a8" stroke-width="2.2"/></svg>
</body></html>
